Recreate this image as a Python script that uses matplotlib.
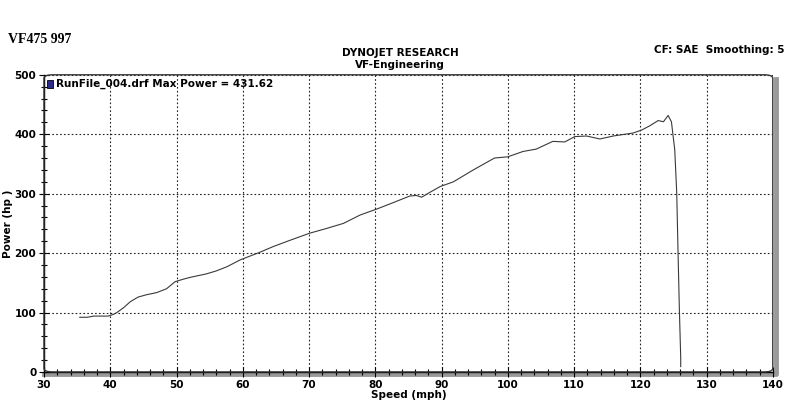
import matplotlib.pyplot as plt
from matplotlib.patches import FancyBboxPatch, Rectangle
from matplotlib.lines import Line2D
from matplotlib.ticker import MultipleLocator

# values
speed = [35.4, 36.5, 37.5, 38.5, 39.7, 40.5, 41.0, 42.0, 43.0, 44.2, 45.5, 47.0,
         48.5, 49.8, 51.0, 52.0, 54.5, 56.0, 57.6, 59.6, 61.1, 62.5, 64.6, 67.0,
         70.1, 72.5, 75.2, 77.7, 80.2, 82.5, 85.2, 86.2, 87.0, 88.2, 89.8, 91.8,
         94.8, 98.0, 100.0, 102.3, 104.3, 106.8, 108.6, 110.1, 111.9, 113.9,
         115.9, 118.9, 120.2, 121.4, 122.7, 123.5, 124.2, 124.7, 125.2, 125.5,
         125.7, 125.9, 126.1, 126.1]
power = [92, 92, 94, 94, 94, 97, 100, 108, 118, 126, 130, 133.5,
         140, 152, 156, 159, 165, 170, 177, 188.5, 195, 201, 211, 221,
         233.5, 241, 250, 264, 274, 284, 296, 297, 294, 302, 312, 320,
         340, 360, 362, 371, 375, 388, 387, 396, 397, 392,
         397, 402, 407, 414, 423, 421, 431.6, 421, 374, 301,
         200, 104, 25, 9]

title_left = "VF475 997"
title_main = "DYNOJET RESEARCH"
title_sub = "VF-Engineering"
info_right = "CF: SAE  Smoothing: 5"
legend_text = "RunFile_004.drf Max Power = 431.62"

plt.rcParams['font.family'] = ['Verdana', 'DejaVu Sans']
fig = plt.figure(figsize=(8, 4.11), dpi=100)
ax = fig.add_axes([0.055, 0.095, 0.911, 0.723])

ax.plot(speed, power, color="#3a3a3a", lw=0.8)

ax.set_xlim(30, 140)
ax.set_ylim(0, 500)
ax.xaxis.set_major_locator(MultipleLocator(10))
ax.xaxis.set_minor_locator(MultipleLocator(2))
ax.yaxis.set_major_locator(MultipleLocator(100))
ax.yaxis.set_minor_locator(MultipleLocator(20))
ax.grid(True, which="major", color="#222222", linestyle=(0, (1.5, 2)), lw=0.8)
ax.tick_params(which="both", direction="inout", length=5, width=0.8, pad=2,
               labelsize=7.5)
ax.tick_params(which="major", length=7)
for lbl in ax.get_xticklabels() + ax.get_yticklabels():
    lbl.set_fontweight("bold")

for s in ["top", "right"]:
    ax.spines[s].set_visible(False)
ax.spines["left"].set_linewidth(1.0)
ax.spines["bottom"].set_linewidth(1.0)

# grey shadow along bottom and right edges
ax.add_line(Line2D([0.0, 1.004, 1.004], [-0.006, -0.006, 0.985], transform=ax.transAxes,
                   color="#999999", lw=3.5, clip_on=False, zorder=0,
                   solid_joinstyle="round"))
frame = FancyBboxPatch((0, 0), 1.0, 1.0, boxstyle="round,pad=0,rounding_size=0.012",
                       transform=ax.transAxes, fill=False, edgecolor="#333333",
                       lw=1.0, clip_on=False, zorder=3)
ax.add_patch(frame)

ax.set_xlabel("Speed (mph)", fontsize=7.5, fontweight="bold", labelpad=0)
ax.set_ylabel("Power (hp )", fontsize=7.5, fontweight="bold")
ax.yaxis.set_label_coords(-0.042, 0.5)

# legend entry
ax.add_patch(Rectangle((0.004, 0.955), 0.009, 0.028, transform=ax.transAxes,
                       facecolor="#2b2b8c", edgecolor="black", lw=0.6, zorder=4))
ax.text(0.016, 0.969, legend_text, transform=ax.transAxes, fontsize=7.5,
        fontweight="bold", va="center", ha="left")

fig.text(0.01, 0.905, title_left, family="Liberation Serif", fontsize=10,
         fontweight="bold", va="center", ha="left")
fig.text(0.5, 0.872, title_main, fontsize=7.5, fontweight="bold", ha="center", va="center")
fig.text(0.5, 0.843, title_sub, fontsize=7.5, fontweight="bold", ha="center", va="center")
fig.text(0.98, 0.878, info_right, fontsize=7.5, fontweight="bold", ha="right", va="center")

fig.savefig("out.png", dpi=100)
